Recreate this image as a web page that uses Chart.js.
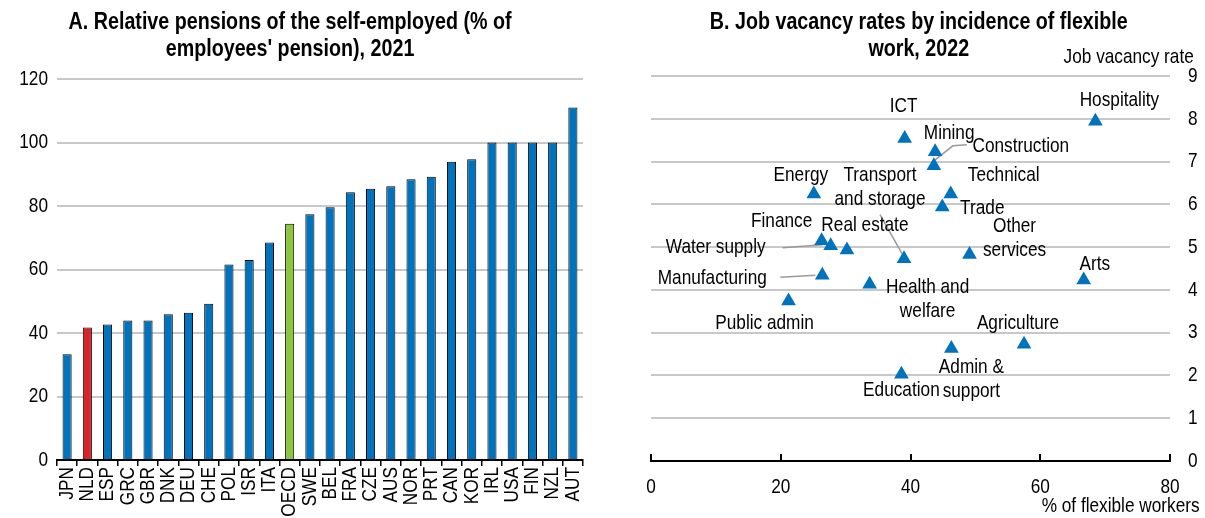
<!DOCTYPE html>
<html>
<head>
<meta charset="utf-8">
<script src="https://cdn.jsdelivr.net/npm/chart.js@4.4.0/dist/chart.umd.min.js"></script>
<style>
    body { margin: 0; background: #fff; width: 1205px; height: 518px; position: relative; overflow: hidden;
           font-family: "Liberation Sans", Arial, sans-serif; color: #000; }
    #left { position: absolute; left: 0; top: 0; width: 600px; height: 518px; }
    #right { position: absolute; left: 600px; top: 0; width: 605px; height: 518px; }
    .title { position: absolute; font-weight: bold; font-size: 24px; line-height: 27px; text-align: center; }
    .title span, .axis-title span { display: inline-block; transform: scaleX(0.82); }
    .title span { transform-origin: center center; }
    .axis-title { position: absolute; font-size: 21px; line-height: 24px; white-space: nowrap; text-align: right; }
    .axis-title span { transform-origin: right center; }
</style>
</head>
<body>
<div id="left"><canvas id="pensionChart"></canvas></div>
<div id="right"><canvas id="vacancyChart"></canvas></div>

<div class="title" style="left:0; width:580px; top:7px;"><span>A. Relative pensions of the self-employed (% of<br>employees' pension), 2021</span></div>
<div class="title" style="left:640px; width:558px; top:7px;"><span>B. Job vacancy rates by incidence of flexible<br>work, 2022</span></div>
<div class="axis-title" style="right:11px; top:44px;"><span>Job vacancy rate</span></div>
<div class="axis-title" style="right:5px; top:493px;"><span>% of flexible workers</span></div>

<script>
// Panel A data
const countries = ['JPN', 'NLD', 'ESP', 'GRC', 'GBR', 'DNK', 'DEU', 'CHE', 'POL', 'ISR', 'ITA', 'OECD', 'SWE',
                   'BEL', 'FRA', 'CZE', 'AUS', 'NOR', 'PRT', 'CAN', 'KOR', 'IRL', 'USA', 'FIN', 'NZL', 'AUT'];
const pensionRatio = [33.3, 41.7, 42.7, 43.9, 43.9, 45.9, 46.4, 49.2, 61.6, 63.0, 68.5, 74.4, 77.4,
                      79.6, 84.3, 85.4, 86.2, 88.4, 89.2, 93.9, 94.7, 100, 100, 100, 100, 111.0];
const pensionTicks = [0, 20, 40, 60, 80, 100, 120];

// Panel B data
const sectors = ['ICT', 'Mining', 'Construction', 'Energy', 'Technical', 'Trade', 'Finance', 'Water supply',
                 'Real estate', 'Transport and storage', 'Other services', 'Manufacturing', 'Health and welfare',
                 'Public admin', 'Hospitality', 'Arts', 'Agriculture', 'Admin & support', 'Education'];
const flexShare = [39.1, 43.8, 43.6, 25.1, 46.2, 44.9, 26.3, 27.7, 30.2, 39.0, 49.1, 26.4, 33.7,
                   21.2, 68.5, 66.7, 57.5, 46.3, 38.6];
const vacancyRate = [7.54, 7.23, 6.90, 6.24, 6.24, 5.94, 5.15, 5.03, 4.93, 4.73, 4.83, 4.34, 4.13,
                     3.74, 7.94, 4.23, 2.73, 2.63, 2.03];

const FONT = '"Liberation Sans", Arial, sans-serif';
const BLUE = '#0073bc';
const GRID = '#c8c8c8';

// label placement for panel B (pixel offsets from each marker)
const labelLayout = {
    'ICT': { dx: -1, dy: -32 },
    'Mining': { dx: 14, dy: -19 },
    'Construction': { dx: 87, dy: -20, leader: [[0, -5], [19, -20], [33, -21]] },
    'Energy': { dx: -13, dy: -19 },
    'Technical': { dx: 53, dy: -19 },
    'Trade': { dx: 40, dy: 1 },
    'Finance': { dx: -40, dy: -19 },
    'Water supply': { dx: -115, dy: 1, leader: [[-48, 2], [-8, -1]] },
    'Real estate': { dx: 18, dy: -25 },
    'Transport and storage': { lines: ['Transport', 'and storage'], dx: -24, dy: -83, leader: [[-24, -44], [-2, -5]] },
    'Other services': { lines: ['Other', 'services'], dx: 45, dy: -28 },
    'Manufacturing': { dx: -110, dy: 3, leader: [[-42, 2], [-7, 0]] },
    'Health and welfare': { lines: ['Health and', 'welfare'], dx: 58, dy: 3 },
    'Public admin': { dx: -24, dy: 22 },
    'Hospitality': { dx: 24, dy: -21 },
    'Arts': { dx: 11, dy: -16 },
    'Agriculture': { dx: -6, dy: -21 },
    'Admin & support': { lines: ['Admin &', 'support'], dx: 20, dy: 19 },
    'Education': { dx: 0, dy: 16 }
};

// no Arial Narrow here, so squeeze the regular face along the baseline
function narrowContext(canvas) {
    const ctx = canvas.getContext('2d');
    const fill = ctx.fillText.bind(ctx);
    ctx.fillText = function(text, x, y, maxWidth) {
        this.save();
        this.translate(x, y);
        this.scale(0.82, 1);
        fill(text, 0, 0);
        this.restore();
    };
    return ctx;
}

function barColour(name) {
    if (name === 'NLD') return '#d7242b';
    if (name === 'OECD') return '#8cc540';
    return BLUE;
}

new Chart(narrowContext(document.getElementById('pensionChart')), {
    type: 'bar',
    data: {
        labels: countries,
        datasets: [{
            data: pensionRatio,
            backgroundColor: countries.map(barColour),
            borderColor: '#000',
            borderWidth: 1,
            categoryPercentage: 1,
            barPercentage: 0.45
        }]
    },
    options: {
        responsive: true,
        maintainAspectRatio: false,
        animation: false,
        layout: { padding: { left: 0, right: 17, top: 79, bottom: 0 } },
        plugins: { legend: { display: false }, title: { display: false }, tooltip: { enabled: false } },
        scales: {
            x: {
                grid: { offset: true, drawOnChartArea: false, tickLength: 6, color: '#000', lineWidth: 1.5 },
                border: { color: '#000', width: 2 },
                ticks: { autoSkip: false, maxRotation: 90, minRotation: 90, padding: 1, color: '#000',
                         font: { family: FONT, size: 21 } },
                afterFit: s => { s.height = 58; }
            },
            y: {
                min: 0, max: 120,
                afterBuildTicks: s => { s.ticks = pensionTicks.map(v => ({ value: v })); },
                grid: { color: ctx => ctx.tick && ctx.tick.value === 0 ? 'rgba(0,0,0,0)' : GRID,
                        lineWidth: 2, drawTicks: false },
                border: { display: false },
                ticks: { padding: 9, color: '#000', font: { family: FONT, size: 21 } },
                afterFit: s => { s.width = 57; }
            }
        }
    }
});

// short upward tick marks on the x axis of panel B
const upTicks = {
    id: 'upTicks',
    afterDraw(chart) {
        const x = chart.scales.x, ctx = chart.ctx;
        const base = chart.chartArea.bottom;
        ctx.save();
        ctx.strokeStyle = '#000';
        ctx.lineWidth = 2;
        x.ticks.forEach(t => {
            const px = Math.round(x.getPixelForValue(t.value));
            ctx.beginPath();
            ctx.moveTo(px, base);
            ctx.lineTo(px, base - 7);
            ctx.stroke();
        });
        ctx.restore();
    }
};

const pointLabels = {
    id: 'pointLabels',
    beforeDatasetsDraw(chart) {
        const ctx = chart.ctx;
        const pts = chart.getDatasetMeta(0).data;
        ctx.save();
        ctx.strokeStyle = '#9a9a9a';
        ctx.lineWidth = 1.5;
        sectors.forEach((name, i) => {
            const lay = labelLayout[name];
            if (!lay.leader) return;
            const p = pts[i];
            ctx.beginPath();
            lay.leader.forEach(([dx, dy], k) => {
                if (k === 0) ctx.moveTo(p.x + dx, p.y + dy);
                else ctx.lineTo(p.x + dx, p.y + dy);
            });
            ctx.stroke();
        });
        ctx.restore();
    },
    afterDatasetsDraw(chart) {
        const ctx = chart.ctx;
        const pts = chart.getDatasetMeta(0).data;
        ctx.save();
        ctx.fillStyle = '#000';
        ctx.font = '21px ' + FONT;
        ctx.textAlign = 'center';
        ctx.textBaseline = 'middle';
        sectors.forEach((name, i) => {
            const lay = labelLayout[name];
            const lines = lay.lines || [name];
            const p = pts[i];
            lines.forEach((line, k) => {
                ctx.fillText(line, p.x + lay.dx, p.y + lay.dy + k * 24);
            });
        });
        ctx.restore();
    }
};

new Chart(narrowContext(document.getElementById('vacancyChart')), {
    type: 'scatter',
    data: {
        datasets: [{
            data: flexShare.map((x, i) => ({ x: x, y: vacancyRate[i] })),
            pointStyle: 'triangle',
            pointRadius: 8.5,
            backgroundColor: BLUE,
            borderWidth: 0
        }]
    },
    options: {
        responsive: true,
        maintainAspectRatio: false,
        animation: false,
        layout: { padding: { left: 51, right: 0, top: 76, bottom: 0 } },
        plugins: { legend: { display: false }, tooltip: { enabled: false } },
        scales: {
            x: {
                type: 'linear', min: 0, max: 80,
                ticks: { stepSize: 20, padding: 14, color: '#000', font: { family: FONT, size: 21 } },
                grid: { drawOnChartArea: false, drawTicks: false },
                border: { color: '#000', width: 2 },
                afterFit: s => { s.height = 57; }
            },
            y: {
                position: 'right', min: 0, max: 9,
                ticks: { stepSize: 1, padding: 18, color: '#000', font: { family: FONT, size: 21 } },
                grid: { color: ctx => ctx.tick && ctx.tick.value === 0 ? 'rgba(0,0,0,0)' : GRID,
                        lineWidth: 2, drawTicks: false },
                border: { display: false },
                afterFit: s => { s.width = 35; }
            }
        }
    },
    plugins: [upTicks, pointLabels]
});
</script>
</body>
</html>
